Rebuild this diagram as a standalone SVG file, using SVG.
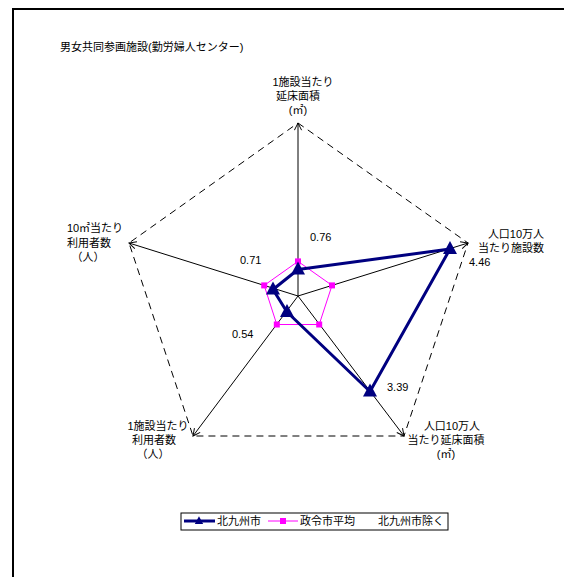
<svg xmlns="http://www.w3.org/2000/svg" width="564" height="577" viewBox="0 0 564 577">
<defs>
<style>
text{font-family:"Liberation Sans","Noto Sans CJK JP",sans-serif;font-size:11px;fill:#000}
.c{text-anchor:middle}
.axis{stroke:#000;stroke-width:1;fill:none}
.dash{stroke:#000;stroke-width:1;fill:none;stroke-dasharray:7,5}
.blue{stroke:#000080;stroke-width:3;fill:none;stroke-linejoin:round}
.mag{stroke:#FF00FF;stroke-width:1;fill:none}
.tri{fill:#000080}
.sq{fill:#FF00FF}
</style>
<marker id="arr" viewBox="0 0 10 10" refX="9" refY="5" markerWidth="9" markerHeight="9" orient="auto" markerUnits="userSpaceOnUse">
<path d="M1,1 L9,5 L1,9" fill="none" stroke="#000" stroke-width="1.1"/>
</marker>
<path id="t" d="M0,-8 L7,5 L-7,5 Z"/>
<rect id="s" x="-3" y="-3" width="6" height="6"/>
</defs>
<rect width="564" height="577" fill="#fff"/>
<path d="M13,577 V9 H564" fill="none" stroke="#000" stroke-width="2"/>
<text x="60" y="51">男女共同参画施設(勤労婦人センター)</text>
<g id="connectors">
<path class="dash" d="M298,123 L468,243 L404,436 L193,436 L129,243 Z"/>
<line class="axis" x1="298" y1="296" x2="298" y2="123" marker-end="url(#arr)"/>
<line class="axis" x1="298" y1="296" x2="468" y2="243" marker-end="url(#arr)"/>
<line class="axis" x1="298" y1="296" x2="404" y2="436" marker-end="url(#arr)"/>
<line class="axis" x1="298" y1="296" x2="193" y2="436" marker-end="url(#arr)"/>
<line class="axis" x1="298" y1="296" x2="129" y2="243" marker-end="url(#arr)"/>
</g>
<g id="series-avg">
<path class="mag" d="M298,261.4 L332,285.4 L319.2,324.5 L276.8,324.5 L264.2,285.4 Z"/>
<use href="#s" x="298" y="261.4" class="sq"/>
<use href="#s" x="332" y="285.4" class="sq"/>
<use href="#s" x="319.2" y="324.5" class="sq"/>
<use href="#s" x="276.8" y="324.5" class="sq"/>
<use href="#s" x="264.2" y="285.4" class="sq"/>
</g>
<g id="series-kk">
<path class="blue" d="M298,269.5 L450,249 L370,391.5 L287,312 L273,289.5 Z"/>
<use href="#t" x="298" y="269.5" class="tri"/>
<use href="#t" x="450" y="249" class="tri"/>
<use href="#t" x="370" y="391.5" class="tri"/>
<use href="#t" x="287" y="312" class="tri"/>
<use href="#t" x="273" y="289.5" class="tri"/>
</g>
<g id="label-top">
<text class="c" x="303" y="86">1施設当たり</text>
<text class="c" x="298" y="100">延床面積</text>
<text class="c" x="298" y="114">(㎡)</text>
</g>
<g id="label-ur">
<text class="c" x="516" y="238">人口10万人</text>
<text class="c" x="511" y="252">当たり施設数</text>
</g>
<g id="label-lr">
<text class="c" x="452" y="430">人口10万人</text>
<text class="c" x="446" y="444">当たり延床面積</text>
<text class="c" x="446" y="458">(㎡)</text>
</g>
<g id="label-ll">
<text class="c" x="158" y="430">1施設当たり</text>
<text class="c" x="154" y="444">利用者数</text>
<text class="c" x="153" y="458">（人）</text>
</g>
<g id="label-ul">
<text class="c" x="95" y="232">10㎡当たり</text>
<text class="c" x="89" y="247">利用者数</text>
<text class="c" x="88" y="261">（人）</text>
</g>
<g id="values">
<text x="310" y="241">0.76</text>
<text x="469" y="266">4.46</text>
<text x="387" y="391">3.39</text>
<text x="232" y="338">0.54</text>
<text x="240" y="264">0.71</text>
</g>
<g id="legend">
<rect x="181" y="513" width="267" height="17" fill="#fff" stroke="#000" stroke-width="1"/>
<line x1="184" y1="521" x2="215" y2="521" stroke="#000080" stroke-width="3"/>
<use href="#t" x="199" y="521" class="tri" transform="translate(199,521) scale(0.6) translate(-199,-521)"/>
<text x="217" y="525">北九州市</text>
<line x1="268" y1="521" x2="298" y2="521" stroke="#FF00FF" stroke-width="1"/>
<use href="#s" x="283" y="521" class="sq"/>
<text x="300" y="525">政令市平均</text>
<text x="378" y="525">北九州市除く</text>
</g>
</svg>
